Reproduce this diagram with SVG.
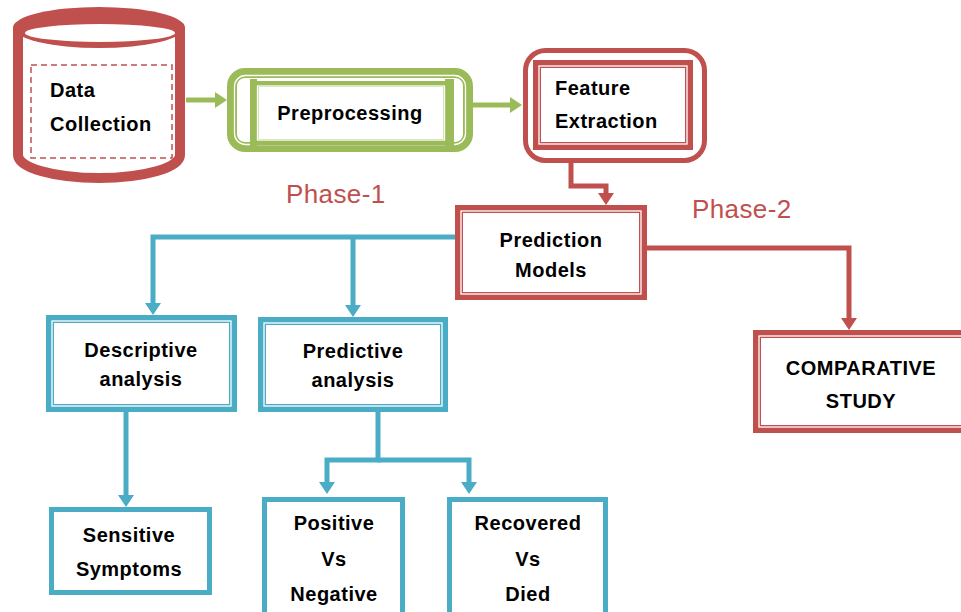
<svg xmlns="http://www.w3.org/2000/svg" width="961" height="612" viewBox="0 0 961 612">
<style>
.t{font-family:"Liberation Sans",Arial,sans-serif;font-weight:bold;font-size:20px;letter-spacing:0.5px;fill:#000}
.c{text-anchor:middle}
.ph{font-family:"Liberation Sans",Arial,sans-serif;font-size:26px;fill:#C0504D;letter-spacing:0.4px}
.r{stroke:#C0504D}
.g{stroke:#9BBB59}
.b{stroke:#4BACC6}
.wl{fill:none;stroke:#fff;stroke-width:1.3}
.box{fill:#fff;stroke-width:8}
.sb{fill:#fff;stroke-width:5}
.ln{fill:none;stroke-width:5}
</style>
<defs>
<marker id="ag" viewBox="0 0 12 16" markerWidth="12" markerHeight="16" refX="6" refY="8" orient="auto" markerUnits="userSpaceOnUse"><path d="M0,0 L12,8 L0,16 Z" fill="#9BBB59"/></marker>
<marker id="ar" viewBox="0 0 12 16" markerWidth="12" markerHeight="16" refX="6" refY="8" orient="auto" markerUnits="userSpaceOnUse"><path d="M0,0 L12,8 L0,16 Z" fill="#C0504D"/></marker>
<marker id="ab" viewBox="0 0 12 16" markerWidth="12" markerHeight="16" refX="6" refY="8" orient="auto" markerUnits="userSpaceOnUse"><path d="M0,0 L12,8 L0,16 Z" fill="#4BACC6"/></marker>
</defs>
<rect width="961" height="612" fill="#fff"/>

<g id="connectors">
<path class="ln g" d="M186,100 H221" stroke-width="4" marker-end="url(#ag)"/>
<path class="ln g" d="M473,105 H516" stroke-width="4" marker-end="url(#ag)"/>
<path class="ln r" d="M571,163 V186 H606 V199" stroke-width="6" marker-end="url(#ar)"/>
<path class="ln r" d="M647,248 H849 V324" marker-end="url(#ar)"/>
<path class="ln b" d="M455,237 H153 V309" marker-end="url(#ab)"/>
<path class="ln b" d="M353,237 V311" marker-end="url(#ab)"/>
<path class="ln b" d="M126,412 V501" marker-end="url(#ab)"/>
<path class="ln b" d="M378,412 V460 H327 V488" marker-end="url(#ab)"/>
<path class="ln b" d="M378,460 H469 V488" marker-end="url(#ab)"/>
</g>

<g id="data-collection">
<path d="M18,28 V155 A81,23 0 0 0 180,155 V28" fill="#fff" class="r" stroke-width="10"/>
<ellipse cx="99" cy="27.5" rx="86" ry="20.5" fill="#C0504D"/>
<ellipse cx="100" cy="33" rx="75" ry="9" fill="#fff"/>
<rect x="31" y="65" width="141" height="93" fill="none" class="r" stroke-width="1.5" stroke-dasharray="6 4"/>
<text class="t" x="50" y="97">Data</text>
<text class="t" x="50" y="131">Collection</text>
</g>

<g id="preprocessing">
<rect x="232" y="73" width="236" height="74" rx="13" fill="#fff" class="g" stroke-width="10"/>
<rect x="234.5" y="75.5" width="231" height="69" rx="11" class="wl"/>
<rect x="250" y="79" width="7" height="67" fill="#9BBB59"/>
<rect x="445" y="79" width="9" height="67" fill="#9BBB59"/>
<rect x="255.5" y="84" width="191" height="58" fill="#fff" class="g" stroke-width="6"/>
<rect x="257.5" y="86" width="187" height="54" class="wl"/>
<text class="t c" x="350" y="120">Preprocessing</text>
</g>

<g id="feature-extraction">
<rect x="525.5" y="50.5" width="179" height="110" rx="20" fill="#fff" class="r" stroke-width="5"/>
<rect x="537" y="64" width="152" height="82" class="box r"/>
<rect x="539" y="66" width="148" height="78" class="wl"/>
<text class="t" x="555" y="95">Feature</text>
<text class="t" x="555" y="128">Extraction</text>
</g>

<g id="prediction-models">
<rect x="459" y="209" width="184" height="87" class="box r"/>
<rect x="461" y="211" width="180" height="83" class="wl"/>
<text class="t c" x="551" y="247">Prediction</text>
<text class="t c" x="551" y="277">Models</text>
</g>

<g id="comparative-study">
<rect x="757" y="334" width="212" height="95" class="box r"/>
<rect x="759" y="336" width="208" height="91" class="wl"/>
<text class="t c" x="861" y="375">COMPARATIVE</text>
<text class="t c" x="861" y="408">STUDY</text>
</g>

<g id="descriptive-analysis">
<rect x="50" y="319" width="183" height="89" class="box b"/>
<rect x="52" y="321" width="179" height="85" class="wl"/>
<text class="t c" x="141" y="357">Descriptive</text>
<text class="t c" x="141" y="386">analysis</text>
</g>

<g id="predictive-analysis">
<rect x="262" y="321" width="182" height="87" class="box b"/>
<rect x="264" y="323" width="178" height="83" class="wl"/>
<text class="t c" x="353" y="358">Predictive</text>
<text class="t c" x="353" y="387">analysis</text>
</g>

<g id="sensitive-symptoms">
<rect x="51.5" y="509.5" width="158" height="83" class="sb b"/>
<text class="t c" x="129" y="542">Sensitive</text>
<text class="t c" x="129" y="576">Symptoms</text>
</g>

<g id="positive-negative">
<rect x="264.5" y="499.5" width="138" height="130" class="sb b"/>
<text class="t c" x="334" y="530">Positive</text>
<text class="t c" x="334" y="566">Vs</text>
<text class="t c" x="334" y="601">Negative</text>
</g>

<g id="recovered-died">
<rect x="449.5" y="499.5" width="156" height="130" class="sb b"/>
<text class="t c" x="528" y="530">Recovered</text>
<text class="t c" x="528" y="566">Vs</text>
<text class="t c" x="528" y="601">Died</text>
</g>

<g id="labels">
<text class="ph" x="286" y="203">Phase-1</text>
<text class="ph" x="692" y="218">Phase-2</text>
</g>
</svg>
